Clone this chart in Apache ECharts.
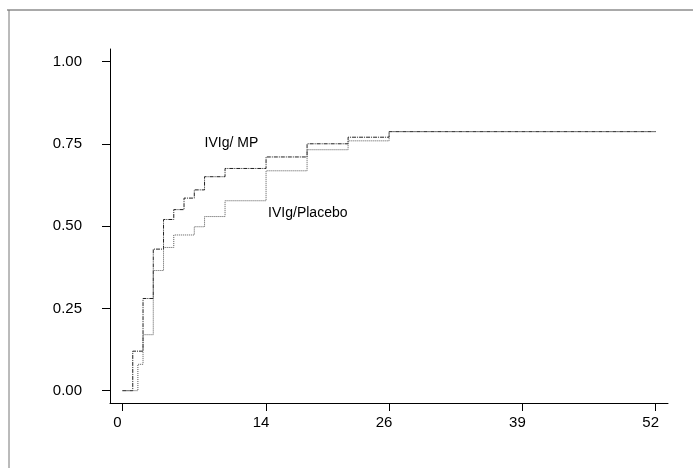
<!DOCTYPE html>
<html>
<head>
<meta charset="utf-8">
<script src="https://cdn.jsdelivr.net/npm/echarts@6/dist/echarts.min.js"></script>
<style>html,body{margin:0;padding:0;background:#fff}#c{width:694px;height:468px}</style>
</head>
<body>
<div id="c"></div>
<script>
// Weeks and cumulative proportion (step curves)
var mpWeeks      = [0, 1, 2, 3, 4, 5, 6, 7, 8, 10, 14, 18, 22, 26, 52];
var mpValues     = [0, 0.12, 0.28, 0.43, 0.52, 0.55, 0.585, 0.61, 0.65, 0.675, 0.71, 0.75, 0.77, 0.787, 0.787];
var placeboWeeks  = [0, 1.5, 2, 3, 4, 5, 7, 8, 10, 14, 18, 22, 26, 52];
var placeboValues = [0, 0.08, 0.17, 0.365, 0.435, 0.473, 0.498, 0.529, 0.577, 0.668, 0.732, 0.759, 0.787, 0.787];
var xTicks = [0, 14, 26, 39, 52];
var yTicks = [0, 0.25, 0.5, 0.75, 1];
var seriesNames = ['IVIg/ MP', 'IVIg/Placebo'];

function pairs(xs, ys){ return xs.map(function(x,i){ return [x, ys[i]]; }); }

var chart = echarts.init(document.getElementById('c'));
var font = 'Liberation Sans, Arial, sans-serif';
chart.setOption({
  animation: false,
  grid: {left: 110, right: 26, top: 49, bottom: 65},
  xAxis: {
    type: 'value', min: -1.22, max: 53.2,
    splitLine: {show: false},
    axisLine: {onZero: false, lineStyle: {color: '#000', width: 1}},
    axisTick: {show: true, length: 8, customValues: xTicks, lineStyle: {color: '#000'}},
    axisLabel: {customValues: xTicks, margin: 12, fontSize: 15, color: '#000', fontFamily: font, padding: [0, 10, 0, 0]}
  },
  yAxis: {
    type: 'value', min: -0.0375, max: 1.038,
    splitLine: {show: false},
    axisLine: {onZero: false, lineStyle: {color: '#000', width: 1}},
    axisTick: {show: true, length: 8, customValues: yTicks, lineStyle: {color: '#000'}},
    axisLabel: {customValues: yTicks, margin: 28, fontSize: 15, color: '#000', fontFamily: font,
      padding: [12, 0, 0, 0],
      formatter: function(v){ return v.toFixed(2); }}
  },
  series: [
    {name: seriesNames[0], type: 'line', step: 'end', symbol: 'none', data: pairs(mpWeeks, mpValues),
     lineStyle: {color: '#222', width: 1, type: [4, 1, 1, 1]}},
    {name: seriesNames[1], type: 'line', step: 'end', symbol: 'none', data: pairs(placeboWeeks, placeboValues),
     lineStyle: {color: '#555', width: 1, type: [1, 1]}}
  ]
});

var p1 = chart.convertToPixel({gridIndex: 0}, [8.0, 0.753]);
var p2 = chart.convertToPixel({gridIndex: 0}, [14.2, 0.54]);
chart.setOption({
  graphic: [
    {type: 'line', shape: {x1: 7, y1: 10, x2: 693, y2: 10}, style: {stroke: '#555', lineWidth: 1}},
    {type: 'line', shape: {x1: 9, y1: 10, x2: 9, y2: 468}, style: {stroke: '#777', lineWidth: 1}},
    {type: 'text', x: p1[0], y: p1[1], style: {text: seriesNames[0], font: '14px ' + font, fill: '#000', verticalAlign: 'middle', align: 'left'}},
    {type: 'text', x: p2[0], y: p2[1], style: {text: seriesNames[1], font: '14px ' + font, fill: '#000', verticalAlign: 'middle', align: 'left'}}
  ]
});
</script>
</body>
</html>
